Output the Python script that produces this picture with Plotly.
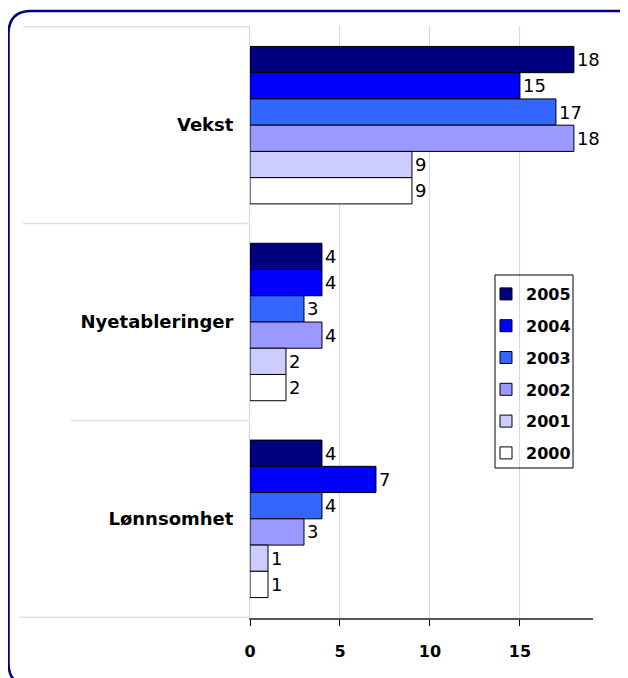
import plotly.graph_objects as go

categories = ["Vekst", "Nyetableringer", "Lønnsomhet"]
years = ["2005", "2004", "2003", "2002", "2001", "2000"]
values = {
    "2005": [18, 4, 4],
    "2004": [15, 4, 7],
    "2003": [17, 3, 4],
    "2002": [18, 4, 3],
    "2001": [9, 2, 1],
    "2000": [9, 2, 1],
}
colors = {
    "2005": "#000080",
    "2004": "#0000FF",
    "2003": "#3366FF",
    "2002": "#9999FF",
    "2001": "#CCCCFF",
    "2000": "#FFFFFF",
}

W, H = 628, 678
OFF = 8  # page body margin
X0, X1, Y0, Y1 = 250, 593, 26, 618  # plot area in page pixels
FONT = "DejaVu Sans, sans-serif"


def px(x):
    return (x - X0) / (X1 - X0)


def py(y):
    return (Y1 - y) / (Y1 - Y0)


fig = go.Figure()
for yr in years:
    fig.add_trace(go.Bar(
        y=categories, x=values[yr], name=yr, orientation="h",
        legendgroup=yr,
        marker=dict(color=colors[yr], line=dict(color="#000000", width=1)),
        text=values[yr], textposition="outside", cliponaxis=False,
        constraintext="none",
        textfont=dict(family=FONT, size=18, color="#000000"),
    ))

# category separators that run into the label area
shapes = []
for yv, xstart in [(-0.5, 23), (0.5, 23), (1.5, 71), (2.5, 19)]:
    shapes.append(dict(type="line", xref="paper", yref="y",
                       x0=px(xstart), x1=0, y0=yv, y1=yv,
                       line=dict(color="#DDDDFF", width=1.5)))

# legend frame
shapes.append(dict(type="rect", xref="paper", yref="paper",
                   x0=px(495), x1=px(573), y0=py(275), y1=py(468),
                   fillcolor="rgba(0,0,0,0)",
                   line=dict(color="#000000", width=1)))

# rounded chart border
l, t, r, b, rad = 8.5, 11, 640, 686, 23
path = (f"M {px(l)},{py(t + rad)} Q {px(l)},{py(t)} {px(l + rad)},{py(t)} "
        f"L {px(r - rad)},{py(t)} Q {px(r)},{py(t)} {px(r)},{py(t + rad)} "
        f"L {px(r)},{py(b - rad)} Q {px(r)},{py(b)} {px(r - rad)},{py(b)} "
        f"L {px(l + rad)},{py(b)} Q {px(l)},{py(b)} {px(l)},{py(b - rad)} Z")
shapes.append(dict(type="path", xref="paper", yref="paper", path=path,
                   line=dict(color="#000080", width=2.5)))

fig.update_layout(
    width=W, height=H,
    margin=dict(l=X0 - OFF, r=W - (X1 - OFF), t=Y0 - OFF, b=H - (Y1 - OFF)),
    paper_bgcolor="white", plot_bgcolor="white",
    barmode="group", bargap=0.2, bargroupgap=0,
    font=dict(family=FONT, size=18, color="#000000"),
    shapes=shapes,
    legend=dict(
        x=px(486), y=py(277), xanchor="left", yanchor="top",
        borderwidth=0, bgcolor="rgba(0,0,0,0)",
        font=dict(family=FONT, size=16, color="#000000", weight="bold"),
        traceorder="grouped", tracegroupgap=8, itemwidth=30,
    ),
    xaxis=dict(
        range=[0, 19.06], tickvals=[0, 5, 10, 15],
        showgrid=True, gridcolor="#D4D4FF", gridwidth=1,
        zeroline=False, showline=True, linecolor="#555555", linewidth=1.5,
        ticks="outside", ticklen=6, tickcolor="#000000",
        ticklabelstandoff=12,
        tickfont=dict(family=FONT, size=16, weight="bold"),
    ),
    yaxis=dict(
        autorange="reversed", showgrid=False, zeroline=False,
        showline=True, linecolor="#CCCCFF", linewidth=1,
        ticks="", ticklabelstandoff=12,
        tickfont=dict(family=FONT, size=18, weight="bold"),
    ),
)

fig.write_html("out.html")
